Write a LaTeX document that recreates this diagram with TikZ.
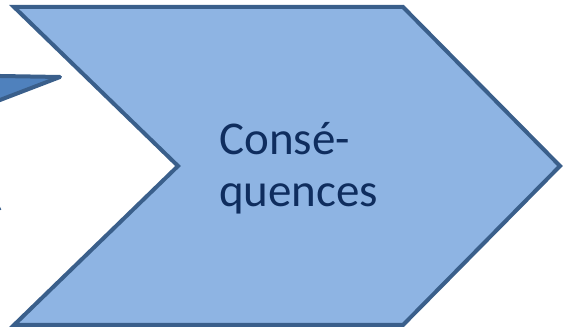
\documentclass[tikz,border=0pt]{standalone}
\usepackage{fontspec}
\setmainfont{Carlito}
\definecolor{chevfill}{HTML}{8EB4E3}
\definecolor{chevline}{HTML}{3A5F8B}
\definecolor{arrowfill}{HTML}{4F81BD}
\definecolor{labeltext}{HTML}{0F2D5E}
\tikzset{
  chevron/.style={fill=chevfill, draw=chevline, line width=4pt, line join=miter},
  prevarrow/.style={fill=arrowfill, draw=chevline, line width=4pt, line join=round},
  chevlabel/.style={font=\fontsize{47}{52}\selectfont, text=labeltext, align=left, inner sep=0pt}
}
\begin{document}
\begin{tikzpicture}[x=1pt, y=-1pt]
  \useasboundingbox (0,0) rectangle (563,328);
  \clip (0,0) rectangle (563,328);
  % tip of the preceding arrow, mostly hidden
  \draw[prevarrow] (-30,75.5) -- (60,77) -- (-30,111.5) -- cycle;
  % edge of a shape further left
  \draw[draw=chevline, line width=2pt] (-2,205) -- (0.5,210);
  % main chevron
  \draw[chevron] (14,7) -- (403,7) -- (560,166) -- (403,325) -- (14,325) -- (178,166) -- cycle;
  \node[chevlabel, anchor=base west] (lbl) at (219,207) {Consé-\\quences};
\end{tikzpicture}
\end{document}
